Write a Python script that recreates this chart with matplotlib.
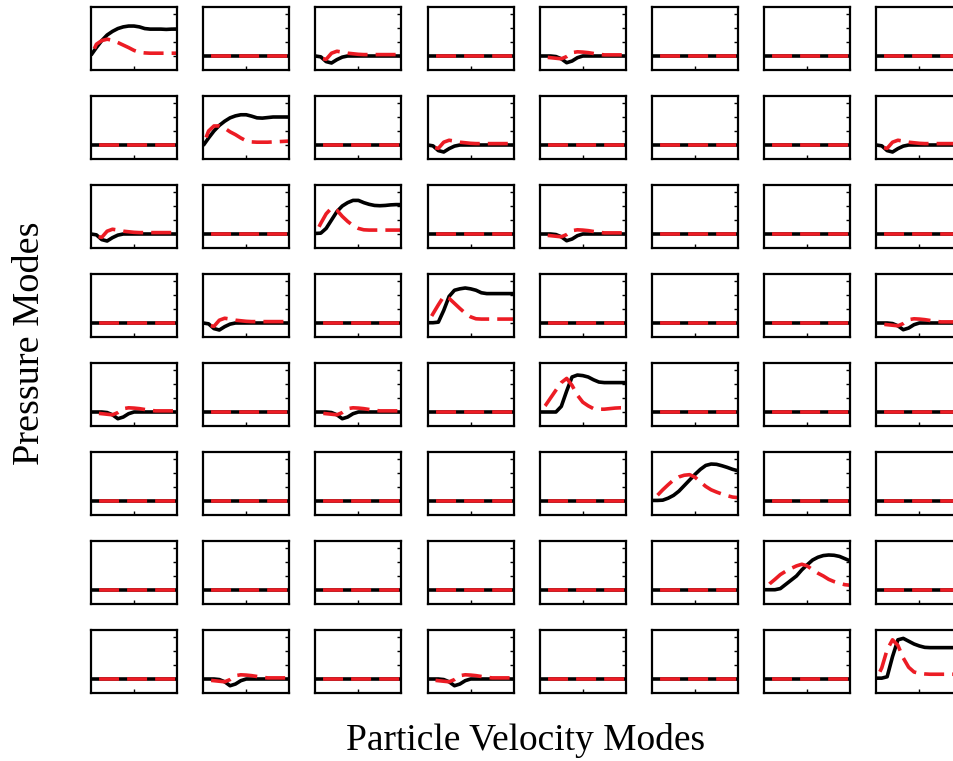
import matplotlib.pyplot as plt

plt.rcParams['lines.scale_dashes'] = False

# time axis shared by every panel
t = [0.0, 0.125, 0.25, 0.375, 0.5, 0.625, 0.75, 0.875, 1.0,
     1.125, 1.25, 1.375, 1.5, 1.625, 1.75, 1.875, 2.0]

zero = [0.0] * len(t)

# diagonal panels: black = exact, red = approximation
black_0 = [0.03, 0.3, 0.55, 0.75, 0.88, 0.98, 1.04, 1.07, 1.07, 1.04, 0.98, 0.96, 0.96, 0.96, 0.95, 0.96, 0.96]
red_0 = [0.0, 0.42, 0.55, 0.6, 0.56, 0.48, 0.39, 0.3, 0.2, 0.13, 0.11, 0.1, 0.1, 0.1, 0.1, 0.1, 0.1]
black_1 = [-0.02, 0.25, 0.5, 0.7, 0.85, 0.97, 1.04, 1.08, 1.08, 1.03, 0.97, 0.96, 0.98, 1.0, 1.0, 1.0, 1.0]
red_1 = [0.0, 0.5, 0.68, 0.68, 0.6, 0.47, 0.37, 0.25, 0.15, 0.11, 0.1, 0.1, 0.1, 0.11, 0.12, 0.13, 0.14]
black_2 = [0.02, 0.03, 0.2, 0.5, 0.8, 1.0, 1.12, 1.2, 1.2, 1.12, 1.06, 1.02, 1.01, 1.02, 1.04, 1.05, 1.05]
red_2 = [0.0, 0.38, 0.72, 0.93, 0.85, 0.63, 0.45, 0.3, 0.2, 0.15, 0.14, 0.14, 0.14, 0.14, 0.14, 0.14, 0.14]
black_3 = [0.01, 0.01, 0.03, 0.45, 0.95, 1.17, 1.22, 1.25, 1.22, 1.17, 1.08, 1.05, 1.05, 1.05, 1.05, 1.05, 1.05]
red_3 = [0.0, 0.33, 0.65, 0.95, 0.88, 0.7, 0.52, 0.35, 0.22, 0.15, 0.14, 0.14, 0.14, 0.14, 0.14, 0.14, 0.14]
black_4 = [0.0, 0.0, 0.0, 0.0, 0.2, 0.75, 1.25, 1.32, 1.3, 1.25, 1.15, 1.07, 1.05, 1.05, 1.05, 1.05, 1.05]
red_4 = [0.0, 0.22, 0.5, 0.78, 1.05, 1.2, 0.95, 0.6, 0.35, 0.22, 0.12, 0.1, 0.1, 0.12, 0.14, 0.15, 0.15]
black_5 = [0.02, 0.02, 0.03, 0.1, 0.2, 0.35, 0.55, 0.75, 0.95, 1.13, 1.27, 1.32, 1.31, 1.26, 1.2, 1.13, 1.08]
red_5 = [0.0, 0.2, 0.4, 0.58, 0.75, 0.86, 0.92, 0.94, 0.85, 0.68, 0.52, 0.4, 0.32, 0.25, 0.19, 0.14, 0.12]
black_6 = [0.01, 0.01, 0.01, 0.05, 0.2, 0.35, 0.5, 0.72, 0.9, 1.07, 1.17, 1.23, 1.25, 1.24, 1.2, 1.12, 1.04]
red_6 = [0.0, 0.22, 0.38, 0.55, 0.67, 0.77, 0.86, 0.92, 0.86, 0.72, 0.6, 0.5, 0.38, 0.3, 0.24, 0.19, 0.17]
black_7 = [0.03, 0.03, 0.08, 0.8, 1.4, 1.45, 1.35, 1.25, 1.18, 1.13, 1.12, 1.12, 1.12, 1.12, 1.12, 1.12, 1.12]
red_7 = [0.0, 0.4, 1.05, 1.4, 1.2, 0.75, 0.42, 0.25, 0.2, 0.18, 0.17, 0.17, 0.17, 0.17, 0.17, 0.17, 0.17]

# small cross-coupling wiggles
black_early = [0.0, -0.03, -0.2, -0.25, -0.13, -0.04, 0.0, 0.0, 0.0, 0.0, 0.0, 0.0, 0.0, 0.0, 0.0, 0.0, 0.0]
red_early = [0.0, -0.08, -0.12, 0.1, 0.17, 0.14, 0.1, 0.08, 0.06, 0.05, 0.05, 0.05, 0.05, 0.05, 0.05, 0.05, 0.05]
black_late = [0.0, 0.0, 0.0, -0.02, -0.1, -0.24, -0.18, -0.06, 0.0, 0.0, 0.0, 0.0, 0.0, 0.0, 0.0, 0.0, 0.0]
red_late = [0.0, -0.04, -0.06, -0.08, -0.1, -0.02, 0.12, 0.15, 0.14, 0.12, 0.09, 0.06, 0.04, 0.04, 0.04, 0.04, 0.04]

diag_black = [black_0, black_1, black_2, black_3, black_4, black_5, black_6, black_7]
diag_red = [red_0, red_1, red_2, red_3, red_4, red_5, red_6, red_7]
early_cells = [(0, 2), (1, 3), (1, 7), (2, 0), (3, 1)]
late_cells = [(0, 4), (2, 4), (3, 7), (4, 0), (4, 2), (7, 1), (7, 3)]

W, H = 954, 761
fig = plt.figure(figsize=(W / 100, H / 100), dpi=100)

for r in range(8):
    for c in range(8):
        left = (91 + 112.2 * c) / W
        bottom = 1 - (70 + 89 * r) / H
        ax = fig.add_axes([left, bottom, 86 / W, 63 / H])
        if r == c:
            yb, yr = diag_black[r], diag_red[r]
        elif (r, c) in early_cells:
            yb, yr = black_early, red_early
        elif (r, c) in late_cells:
            yb, yr = black_late, red_late
        else:
            yb, yr = zero, zero
        ax.plot(t, yb, color='black', lw=2.6, solid_capstyle='butt')
        ax.plot(t, yr, color='#ec1c24', lw=2.6, linestyle=(14.4, (14.4, 5.8)),
                dash_capstyle='butt')
        ax.set_xlim(0, 2)
        ax.set_ylim(-0.5, 1.75)
        ax.set_xticks([1])
        ax.set_yticks([0, 0.5, 1, 1.5])
        ax.tick_params(direction='in', length=3, width=1, labelbottom=False,
                       labelleft=False, left=False, right=True, top=False)
        for s in ax.spines.values():
            s.set_linewidth(1.6)

fig.text(0.031, 0.549, 'Pressure Modes', rotation=90, ha='center', va='center',
         family='Liberation Serif', fontsize=27.5)
fig.text(0.551, 0.027, 'Particle Velocity Modes', ha='center', va='center',
         family='Liberation Serif', fontsize=27)

fig.savefig('out.png', dpi=100)
